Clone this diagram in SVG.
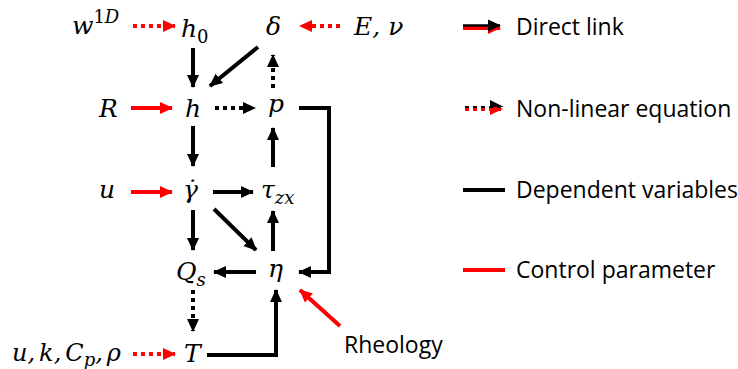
<svg xmlns="http://www.w3.org/2000/svg" width="738" height="369" viewBox="0 0 738 369">
<style>
.m{font-family:"DejaVu Serif","Liberation Serif",serif;font-style:italic;font-size:25px;fill:#000}
.s{font-size:18px}
.up{font-style:normal}
.lg{font-family:"Open Sans","Liberation Sans",sans-serif;font-size:23px;fill:#000}
.b{stroke:#000;stroke-width:4;fill:none}
.r{stroke:#f00;stroke-width:4;fill:none}
.d{stroke-dasharray:4 4}
</style>
<defs>
<marker id="ab" markerUnits="userSpaceOnUse" markerWidth="14" markerHeight="14" refX="12" refY="7" orient="auto"><path d="M0,1 L13,7 L0,13 Z" fill="#000"/></marker>
<marker id="ar" markerUnits="userSpaceOnUse" markerWidth="14" markerHeight="14" refX="12" refY="7" orient="auto"><path d="M0,1 L13,7 L0,13 Z" fill="#f00"/></marker>
</defs>
<g id="n-w1d"><text class="m" x="72" y="34">w<tspan class="s" dy="-11"><tspan class="up">1</tspan>D</tspan></text></g>
<g id="n-h0"><text class="m" x="181" y="37">h<tspan class="s up" dy="6">0</tspan></text></g>
<g id="n-delta"><text class="m" x="266" y="35">δ</text></g>
<g id="n-Enu"><text class="m" x="354" y="35">E, ν</text></g>
<g id="n-R"><text class="m" x="99" y="117">R</text></g>
<g id="n-h"><text class="m" x="185" y="117">h</text></g>
<g id="n-p"><text class="m" x="268" y="112">p</text></g>
<g id="n-u"><text class="m" x="99" y="198">u</text></g>
<g id="n-gdot"><text class="m" x="183" y="198">γ̇</text></g>
<g id="n-tau"><text class="m" x="261" y="198">τ<tspan class="s" dy="6">zx</tspan></text></g>
<g id="n-Qs"><text class="m" x="176" y="280">Q<tspan class="s" dy="6">s</tspan></text></g>
<g id="n-eta"><text class="m" x="268" y="277">η</text></g>
<g id="n-T"><text class="m" x="184" y="362">T</text></g>
<g id="n-params"><text class="m" x="12" y="361" style="font-size:24px">u,<tspan dx="4">k,</tspan><tspan dx="4">C</tspan><tspan class="s" dy="5">p</tspan><tspan dy="-5">,</tspan><tspan dx="4">ρ</tspan></text></g>
<g id="n-rheo"><text class="lg" x="344" y="353">Rheology</text></g>
<g id="connectors">
<line class="r d" x1="133" y1="26" x2="175" y2="26" marker-end="url(#ar)"/>
<line class="r d" x1="340" y1="26" x2="300" y2="26" marker-end="url(#ar)"/>
<line class="b" x1="193" y1="48" x2="193" y2="87" marker-end="url(#ab)"/>
<line class="b" x1="258" y1="47" x2="210" y2="86" marker-end="url(#ab)"/>
<line class="b d" x1="273" y1="88" x2="273" y2="55" marker-end="url(#ab)"/>
<line class="r" x1="131" y1="108" x2="172" y2="108" marker-end="url(#ar)"/>
<line class="b d" x1="215" y1="108" x2="255" y2="108" marker-end="url(#ab)"/>
<polyline class="b" points="299,108 329,108 329,272 299,272" marker-end="url(#ab)"/>
<line class="b" x1="193" y1="126" x2="193" y2="166" marker-end="url(#ab)"/>
<line class="b" x1="273" y1="167" x2="273" y2="128" marker-end="url(#ab)"/>
<line class="r" x1="131" y1="192" x2="172" y2="192" marker-end="url(#ar)"/>
<line class="b" x1="213" y1="192" x2="253" y2="192" marker-end="url(#ab)"/>
<line class="b" x1="193" y1="210" x2="193" y2="250" marker-end="url(#ab)"/>
<line class="b" x1="214" y1="209" x2="256" y2="250" marker-end="url(#ab)"/>
<line class="b" x1="273" y1="251" x2="273" y2="211" marker-end="url(#ab)"/>
<line class="b" x1="256" y1="272" x2="214" y2="272" marker-end="url(#ab)"/>
<line class="b d" x1="193" y1="290" x2="193" y2="331" marker-end="url(#ab)"/>
<line class="r d" x1="133" y1="354" x2="175" y2="354" marker-end="url(#ar)"/>
<polyline class="b" points="207,355 276,355 276,290" marker-end="url(#ab)"/>
<line class="r" x1="340" y1="326" x2="300" y2="290" marker-end="url(#ar)"/>
</g>
<g id="legend">
<line class="r" x1="463" y1="28" x2="500" y2="28" marker-end="url(#ar)"/>
<line class="b" x1="463" y1="25.5" x2="500" y2="25.5" marker-end="url(#ab)" style="stroke-width:2.5"/>
<line class="r d" x1="465" y1="109" x2="502" y2="109" marker-end="url(#ar)"/>
<line class="b d" x1="465" y1="107" x2="502" y2="107" style="stroke-width:2"/>
<path d="M490,100 L504,107 L490,107 Z" fill="#000"/>
<line class="b" x1="463" y1="190" x2="505" y2="190"/>
<line class="r" x1="463" y1="270" x2="505" y2="270"/>
<text class="lg" x="516" y="35">Direct link</text>
<text class="lg" x="516" y="117">Non-linear equation</text>
<text class="lg" x="516" y="198">Dependent variables</text>
<text class="lg" x="516" y="278">Control parameter</text>
</g>
</svg>
